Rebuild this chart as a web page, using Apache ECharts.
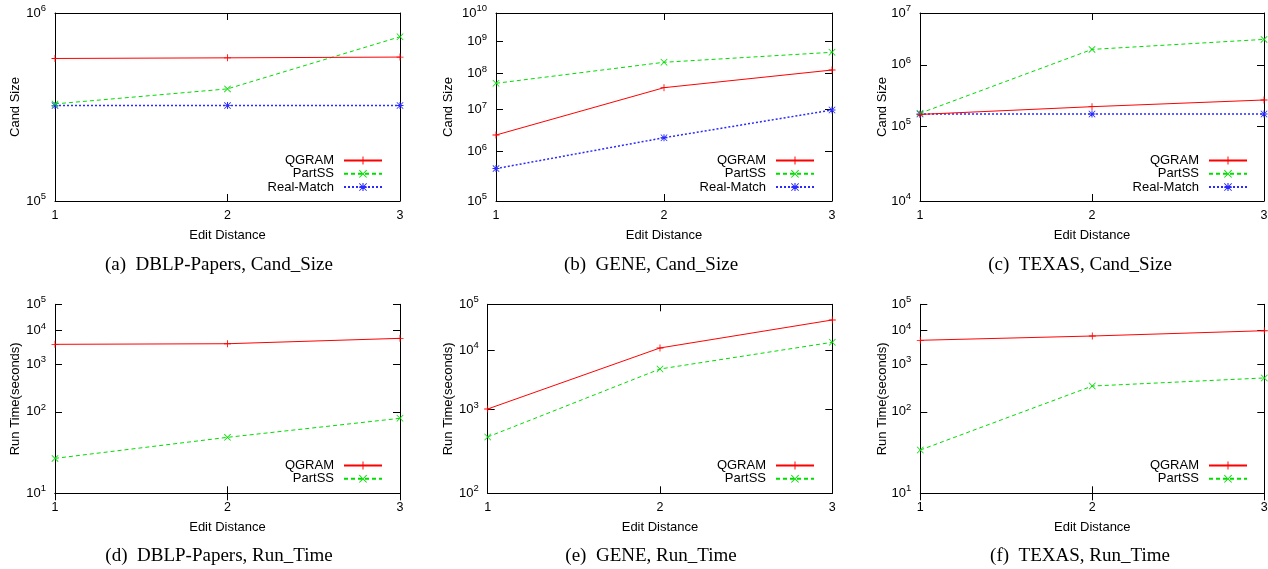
<!DOCTYPE html>
<html>
<head>
<meta charset="utf-8">
<script src="https://cdn.jsdelivr.net/npm/echarts@6/dist/echarts.min.js"></script>
<style>html,body{margin:0;padding:0;background:#fff}#c{width:1268px;height:569px}</style>
</head>
<body>
<div id="c"></div>
<script>
// ---- data ----
const editDistance = [1, 2, 3];
const seriesNames = ['QGRAM', 'PartSS', 'Real-Match'];

const dblpCandQgram = [551000, 555500, 561000];
const dblpCandPartss = [311700, 375200, 730000];
const dblpCandReal = [305200, 305200, 305400];

const geneCandQgram = [2.38e6, 3.92e7, 1.27e8];
const geneCandPartss = [5.21e7, 2.18e8, 4.48e8];
const geneCandReal = [4.31e5, 2.06e6, 9.84e6];

const texasCandQgram = [1.50e5, 1.98e5, 2.53e5];
const texasCandPartss = [1.56e5, 1.91e6, 2.96e6];
const texasCandReal = [1.52e5, 1.52e5, 1.52e5];

const dblpTimeQgram = [3597, 3750, 5521];
const dblpTimePartss = [22.2, 40.8, 78.3];

const geneTimeQgram = [1023, 11120, 43050];
const geneTimePartss = [425, 4508, 14420];

const texasTimeQgram = [4786, 6561, 9840];
const texasTimePartss = [27.9, 311, 468];

// y tick exponents (labels 10^n)
const dblpCandTicks = [5, 6];
const geneCandTicks = [5, 6, 7, 8, 9, 10];
const texasCandTicks = [4, 5, 6, 7];
const dblpTimeTicks = [1, 2, 3, 4, 5];
const geneTimeTicks = [2, 3, 4, 5];
const texasTimeTicks = [1, 2, 3, 4, 5];

const xTitle = 'Edit Distance';
const yTitles = ['Cand Size', 'Run Time(seconds)'];
const captions = [
  '(a)  DBLP-Papers, Cand_Size', '(b)  GENE, Cand_Size', '(c)  TEXAS, Cand_Size',
  '(d)  DBLP-Papers, Run_Time', '(e)  GENE, Run_Time', '(f)  TEXAS, Run_Time'
];

// ---- layout / style ----
const panels = [
  {grid:{left:55, top:13, width:345, height:188}, ticks:dblpCandTicks, series:[dblpCandQgram, dblpCandPartss, dblpCandReal], yt:0, nameGap:33, legend:{right:885, top:154}, cap:[219,265]},
  {grid:{left:496, top:13, width:336, height:188}, ticks:geneCandTicks, series:[geneCandQgram, geneCandPartss, geneCandReal], yt:0, nameGap:41.5, legend:{right:453, top:154}, cap:[651,265]},
  {grid:{left:920, top:13, width:344, height:188}, ticks:texasCandTicks, series:[texasCandQgram, texasCandPartss, texasCandReal], yt:0, nameGap:31.5, legend:{right:20, top:154}, cap:[1080,265]},
  {grid:{left:55, top:304.3, width:345, height:189}, ticks:dblpTimeTicks, series:[dblpTimeQgram, dblpTimePartss], yt:1, nameGap:33.5, legend:{right:885, top:459}, cap:[219,556]},
  {grid:{left:487.7, top:304.3, width:344.6, height:189}, ticks:geneTimeTicks, series:[geneTimeQgram, geneTimePartss], yt:1, nameGap:33, legend:{right:453, top:459}, cap:[651,556]},
  {grid:{left:920.3, top:304.3, width:344, height:189}, ticks:texasTimeTicks, series:[texasTimeQgram, texasTimePartss], yt:1, nameGap:31.8, legend:{right:20, top:459}, cap:[1080,556]}
];

const SANS = '"Liberation Sans", Arial, Helvetica, sans-serif';
const SERIF = '"Liberation Serif", "Times New Roman", serif';
const PLUS = 'path://M0,4.4L10,4.4L10,5.6L0,5.6Z M4.4,0L5.6,0L5.6,10L4.4,10Z';
const CROSS = 'path://M0.8,0L5,4.2L9.2,0L10,0.8L5.8,5L10,9.2L9.2,10L5,5.8L0.8,10L0,9.2L4.2,5L0,0.8Z';
const STAR = 'path://M0.8,0L5,4.2L9.2,0L10,0.8L5.8,5L10,9.2L9.2,10L5,5.8L0.8,10L0,9.2L4.2,5L0,0.8Z M0,4.3L10,4.3L10,5.7L0,5.7Z M4.3,0L5.7,0L5.7,10L4.3,10Z';
const styles = [
  {color:'#ff0000', symbol:PLUS, size:7, line:{width:1, type:'solid'}},
  {color:'#00dd00', symbol:CROSS, size:7, line:{width:1, type:[4,3]}},
  {color:'#2a2aff', symbol:STAR, size:7, line:{width:1.5, type:[2,2]}}
];

// double-log transform used by the value axes (position ~ log(log10 v))
const tf = v => Math.log10(Math.log10(v));

const grid = [], xAxis = [], yAxis = [], series = [], legend = [], graphic = [];
const axisLine = {show:true, lineStyle:{color:'#000', width:1}};

panels.forEach((p, i) => {
  grid.push(Object.assign({outerBoundsMode:'none', containLabel:false}, p.grid));
  const tickVals = p.ticks.map(e => Math.log10(e));
  const yMin = Math.log10(p.ticks[0]), yMax = Math.log10(p.ticks[p.ticks.length - 1]);
  // bottom x
  xAxis.push({
    gridIndex:i, type:'value', min:1, max:3, interval:1, position:'bottom',
    axisLine, axisTick:{show:true, inside:true, length:7, lineStyle:{color:'#000'}},
    axisLabel:{show:true, color:'#000', fontSize:12.5, fontFamily:SANS, margin:8, showMinLabel:true, showMaxLabel:true},
    splitLine:{show:false},
    name:xTitle, nameLocation:'middle', nameGap:27.5, nameMoveOverlap:false,
    nameTextStyle:{color:'#000', fontSize:13, fontFamily:SANS}
  });
  // top x (mirror)
  xAxis.push({
    gridIndex:i, type:'value', min:1, max:3, interval:1, position:'top',
    axisLine, axisTick:{show:true, inside:true, length:7, lineStyle:{color:'#000'}},
    axisLabel:{show:false}, splitLine:{show:false}
  });
  // left y
  yAxis.push({
    gridIndex:i, type:'value', min:yMin, max:yMax, position:'left',
    axisLine, axisTick:{show:true, inside:true, length:7, customValues:tickVals, lineStyle:{color:'#000'}},
    axisLabel:{
      show:true, customValues:tickVals, margin:9, color:'#000', fontSize:13, fontFamily:SANS,
      formatter: v => '{b|10}{s|' + Math.round(Math.pow(10, v)) + '}',
      rich:{
        b:{fontSize:13, fontFamily:SANS, color:'#000'},
        s:{fontSize:9.5, fontFamily:SANS, color:'#000', padding:[0,0,9,0]}
      }
    },
    splitLine:{show:false},
    name:yTitles[p.yt], nameLocation:'middle', nameGap:p.nameGap, nameRotate:90, nameMoveOverlap:false,
    nameTextStyle:{color:'#000', fontSize:13, fontFamily:SANS}
  });
  // right y (mirror)
  yAxis.push({
    gridIndex:i, type:'value', min:yMin, max:yMax, position:'right',
    axisLine, axisTick:{show:true, inside:true, length:7, customValues:tickVals, lineStyle:{color:'#000'}},
    axisLabel:{show:false}, splitLine:{show:false}
  });
  const names = [];
  p.series.forEach((vals, k) => {
    const st = styles[k];
    names.push(seriesNames[k]);
    series.push({
      type:'line', name:seriesNames[k], xAxisIndex:2*i, yAxisIndex:2*i,
      data: editDistance.map((x, j) => [x, tf(vals[j])]),
      symbol:st.symbol, symbolSize:st.size, showAllSymbol:true,
      itemStyle:{color:st.color},
      lineStyle:{color:st.color, width:st.line.width, type:st.line.type},
      emphasis:{disabled:true}, animation:false, z:3 + (2 - k)
    });
  });
  legend.push({
    data:names, orient:'vertical', right:p.legend.right, top:p.legend.top, align:'right',
    itemWidth:38, itemHeight:10, itemGap:0.3, selectedMode:false, padding:0,
    textStyle:{fontSize:13, fontFamily:SANS, color:'#000', lineHeight:13, padding:[0,5,0,0]}
  });
  graphic.push({
    type:'text', x:p.cap[0], y:p.cap[1],
    style:{text:captions[i], fontSize:19, fontFamily:SERIF, fill:'#000', textAlign:'center', textVerticalAlign:'middle'}
  });
});

const chart = echarts.init(document.getElementById('c'), null, {renderer:'canvas'});
chart.setOption({
  animation:false, backgroundColor:'#fff',
  grid, xAxis, yAxis, series, legend, graphic
});
</script>
</body>
</html>
